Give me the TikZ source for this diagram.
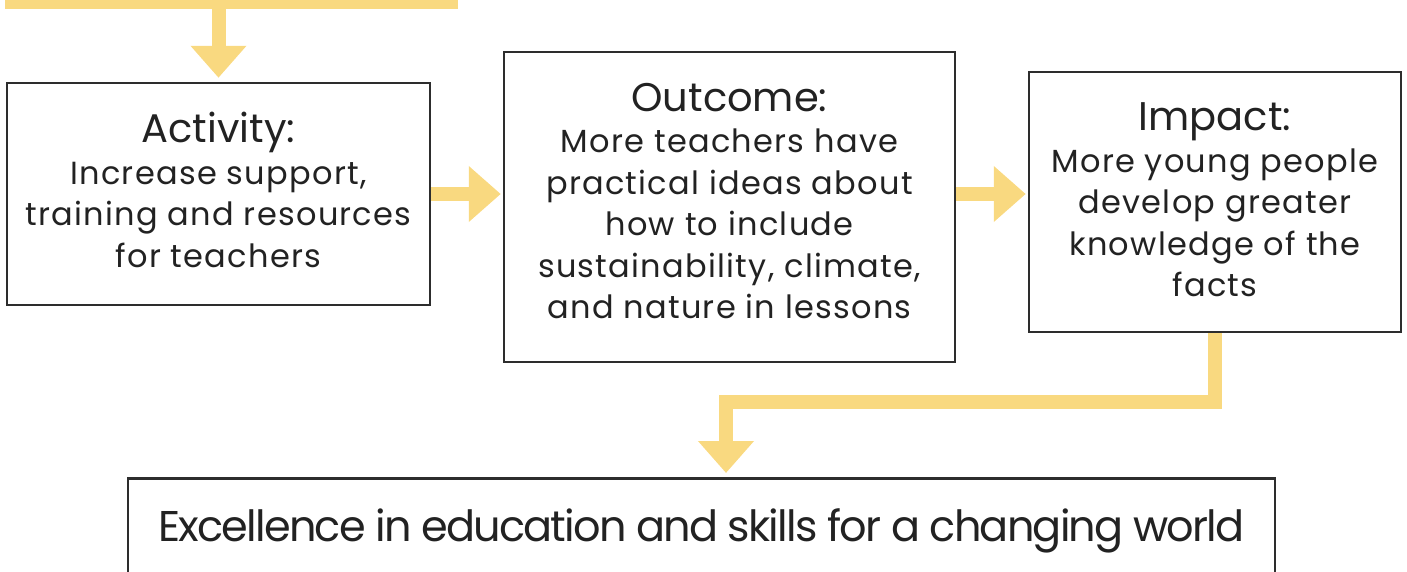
\documentclass[tikz,border=0pt]{standalone}
\usepackage{fontspec}
\setmainfont{Poppins}
\newfontfamily\bodyfont[LetterSpace=4]{Poppins}
\newfontfamily\goalfont[LetterSpace=-4.2]{Poppins}
\usetikzlibrary{arrows.meta}
\definecolor{flowyellow}{RGB}{249,217,128}
\definecolor{boxgrey}{RGB}{45,45,45}
\definecolor{textgrey}{RGB}{34,34,34}

\begin{document}
\begin{tikzpicture}[x=1pt,y=-1pt,
  box/.style={draw=boxgrey,line width=2.5pt,align=center,inner sep=0pt,text=textgrey,font=\bodyfont\fontsize{32}{41.5}\selectfont},
  flow/.style={draw=flowyellow,line width=14pt,-{Triangle[width=54pt,length=32pt]},shorten >=4pt}]
  \useasboundingbox (0,0) rectangle (1407,571);
  % boxes
  \node[box,minimum width=423pt,minimum height=222pt,text depth=8pt] (act) at (218.5,194)
    {{\normalfont\fontsize{40}{40}\selectfont Activity:}\\Increase support,\\training and resources\\for teachers};
  \node[box,minimum width=451pt,minimum height=310pt,text depth=12pt] (out) at (729.5,207)
    {{\normalfont\fontsize{40}{40}\selectfont Outcome:}\\More teachers have\\practical ideas about\\how to include\\sustainability, climate,\\and nature in lessons};
  \node[box,minimum width=372pt,minimum height=260pt,text depth=4pt] (imp) at (1215,202)
    {{\normalfont\fontsize{40}{40}\selectfont Impact:}\\More young people\\develop greater\\knowledge of the\\facts};
  \node[box,anchor=north,minimum width=1147pt,inner ysep=32pt,text height=31pt,text depth=10pt,
    font=\goalfont\fontsize{43}{50}\selectfont] (goal) at (701.5,477)
    {Excellence in education and skills for a changing world};
  % connectors
  \coordinate (barL) at (5,2);
  \coordinate (barR) at (458,2);
  \coordinate (bend) at (726,402);
  \draw[draw=flowyellow,line width=14pt] (barL) -- (barR);
  \draw[flow] (act.north |- barL) -- (act.north);
  \draw[flow,shorten >=2pt] (act.east) -- (act.east -| out.west);
  \draw[flow,shorten >=2pt] (act.east -| out.east) -- (act.east -| imp.west);
  \draw[flow] (imp.south) |- (bend) -- (bend |- goal.north);
\end{tikzpicture}
\end{document}
